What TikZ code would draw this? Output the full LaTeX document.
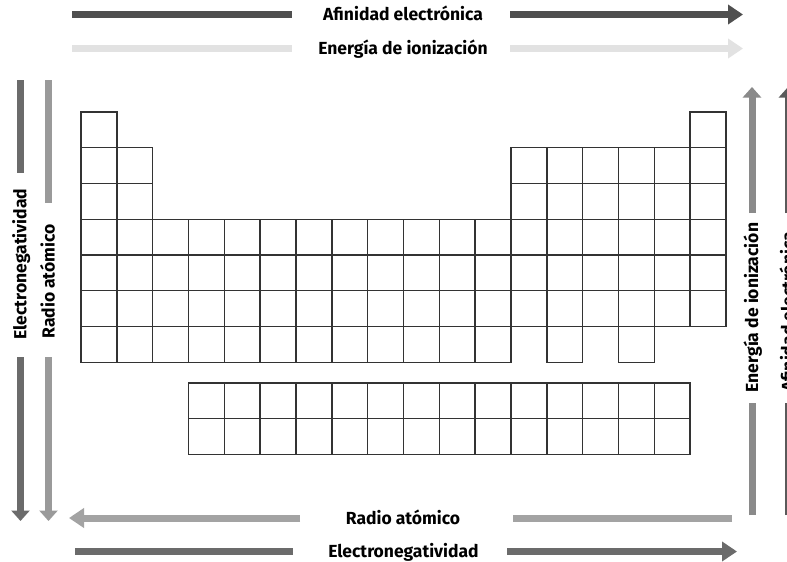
\documentclass[tikz,border=0pt]{standalone}
\usepackage{fontspec}
\setmainfont{Fira Sans}
\usetikzlibrary{arrows.meta}
\definecolor{cTopA}{HTML}{4F4F4F}
\definecolor{cTopE}{HTML}{E2E2E2}
\definecolor{cLeftN}{HTML}{6B6B6B}
\definecolor{cLeftR}{HTML}{9A9A9A}
\definecolor{cRightE}{HTML}{8A8A8A}
\definecolor{cRightA}{HTML}{5A5A5A}
\definecolor{cBotR}{HTML}{A3A3A3}
\definecolor{cBotN}{HTML}{6B6B6B}
\definecolor{cellc}{HTML}{333333}
\tikzset{
  lbl/.style={font=\bfseries\fontsize{17.5}{20}\selectfont, inner sep=0pt, anchor=base},
  vlbl/.style={lbl, rotate=90},
  bar/.style={line width=7pt, line cap=butt},
  hhead/.style={-{Triangle[length=15pt,width=19pt]}},
  vhead/.style={-{Triangle[length=10.5pt,width=18pt]}},
  cell/.style={draw=cellc, line width=1.4pt}
}
\def\cw{35.833}
\def\ch{35.75}
\begin{document}
\begin{tikzpicture}[x=1pt,y=-1pt]
\useasboundingbox (0,0) rectangle (787,562);
\fill[white] (0,0) rectangle (787,562);

% ---------- periodic table cells ----------
\foreach \c in {1,18}
  \draw[cell] ({81+(\c-1)*\cw},112) rectangle +(\cw,\ch);
\foreach \r in {2,3}
  \foreach \c in {1,2,13,14,15,16,17,18}
    \draw[cell] ({81+(\c-1)*\cw},{112+(\r-1)*\ch}) rectangle +(\cw,\ch);
\foreach \r in {4,5,6}
  \foreach \c in {1,...,18}
    \draw[cell] ({81+(\c-1)*\cw},{112+(\r-1)*\ch}) rectangle +(\cw,\ch);
\foreach \c in {1,...,12,14,16}
  \draw[cell] ({81+(\c-1)*\cw},{112+6*\ch}) rectangle +(\cw,\ch);
\foreach \r in {0,1}
  \foreach \c in {4,...,17}
    \draw[cell] ({81+(\c-1)*\cw},{383+\r*\ch}) rectangle +(\cw,\ch);

% ---------- top: Afinidad electrónica ----------
\node[lbl] (tA) at (403,20.5) {Afinidad electrónica};
\coordinate (tA1) at (72,14.5);  \coordinate (tA2) at (292,14.5);
\coordinate (tA3) at (510,14.5); \coordinate (tA4) at (743,14.5);
\draw[bar, cTopA] (tA1) -- (tA2);
\draw[bar, cTopA, hhead] (tA3) -- (tA4);

% ---------- top: Energía de ionización ----------
\node[lbl] (tE) at (403,54.5) {Energía de ionización};
\coordinate (tE1) at (72,48.5);  \coordinate (tE2) at (292,48.5);
\coordinate (tE3) at (510,48.5); \coordinate (tE4) at (743,48.5);
\draw[bar, cTopE] (tE1) -- (tE2);
\draw[bar, cTopE, hhead] (tE3) -- (tE4);

% ---------- left: Electronegatividad ----------
\node[vlbl] (lN) at (26.5,264) {Electronegatividad};
\coordinate (lN1) at (20.5,80);  \coordinate (lN2) at (20.5,173);
\coordinate (lN3) at (20.5,357); \coordinate (lN4) at (20.5,521);
\draw[bar, cLeftN] (lN1) -- (lN2);
\draw[bar, cLeftN, vhead] (lN3) -- (lN4);

% ---------- left: Radio atómico ----------
\node[vlbl] (lR) at (54.5,281.5) {Radio atómico};
\coordinate (lR1) at (48.5,80);  \coordinate (lR2) at (48.5,203);
\coordinate (lR3) at (48.5,357); \coordinate (lR4) at (48.5,521);
\draw[bar, cLeftR] (lR1) -- (lR2);
\draw[bar, cLeftR, vhead] (lR3) -- (lR4);

% ---------- right: Energía de ionización ----------
\node[vlbl] (rE) at (758,307.5) {Energía de ionización};
\coordinate (rE1) at (752,515);  \coordinate (rE2) at (752,403);
\coordinate (rE3) at (752,213);  \coordinate (rE4) at (752,87);
\draw[bar, cRightE] (rE1) -- (rE2);
\draw[bar, cRightE, vhead] (rE3) -- (rE4);

% ---------- right: Afinidad electrónica ----------
\node[vlbl] (rA) at (794,312) {Afinidad electrónica};
\coordinate (rA1) at (788,515);  \coordinate (rA2) at (788,403);
\coordinate (rA3) at (788,213);  \coordinate (rA4) at (788,87);
\draw[bar, cRightA] (rA1) -- (rA2);
\draw[bar, cRightA, vhead] (rA3) -- (rA4);

% ---------- bottom: Radio atómico ----------
\node[lbl] (bR) at (403,524) {Radio atómico};
\coordinate (bR1) at (732,518);  \coordinate (bR2) at (513,518);
\coordinate (bR3) at (300,518);  \coordinate (bR4) at (69,518);
\draw[bar, cBotR] (bR1) -- (bR2);
\draw[bar, cBotR, hhead] (bR3) -- (bR4);

% ---------- bottom: Electronegatividad ----------
\node[lbl] (bN) at (403.5,557.5) {Electronegatividad};
\coordinate (bN1) at (75,551.5);  \coordinate (bN2) at (293,551.5);
\coordinate (bN3) at (507,551.5); \coordinate (bN4) at (737,551.5);
\draw[bar, cBotN] (bN1) -- (bN2);
\draw[bar, cBotN, hhead] (bN3) -- (bN4);
\end{tikzpicture}
\end{document}
